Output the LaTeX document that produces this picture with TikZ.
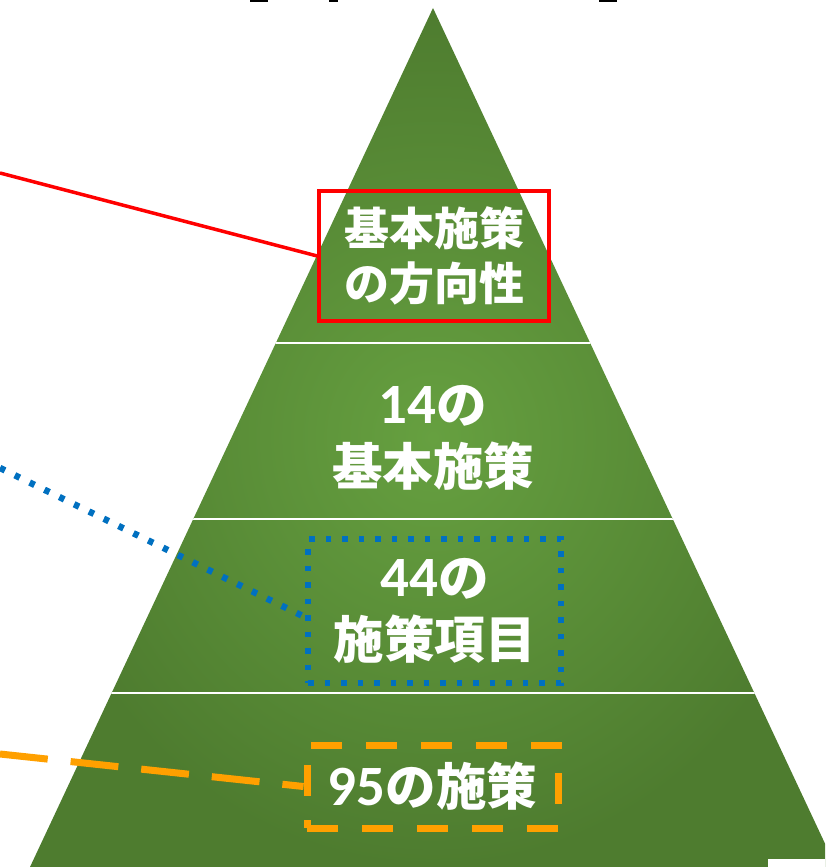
\documentclass[tikz,border=0pt]{standalone}
\usepackage{fontspec}
\newfontfamily\jp{Noto Sans CJK JP}
\newfontfamily\lat{Carlito}[BoldFont={Carlito Bold}]
\newcommand{\dg}[1]{{\lat\bfseries\fontsize{57}{62}\selectfont #1}}
\definecolor{pgreenin}{HTML}{66A040}
\definecolor{pgreenout}{HTML}{4E7C2F}
\definecolor{lred}{HTML}{FF0000}
\definecolor{lblue}{HTML}{0070C0}
\definecolor{lorange}{HTML}{FFA000}
\tikzset{
  lbl/.style={text=white, align=center, inner sep=0pt, font=\jp\bfseries\fontsize{45}{55}\selectfont},
  lblbig/.style={text=white, align=center, inner sep=0pt, font=\jp\bfseries\fontsize{50.5}{62}\selectfont},
  redbox/.style={draw=lred, line width=3.5pt},
  bluebox/.style={draw=lblue, line width=6.5pt, dash pattern=on 5.5pt off 11pt},
  orangebox/.style={draw=lorange, line width=7pt, dash pattern=on 31pt off 24pt},
  divider/.style={draw=white, line width=2pt},
}
\begin{document}
\begin{tikzpicture}[x=1pt,y=-1pt]
\useasboundingbox (0,0) rectangle (825,867);
% cut-off title fragments
\fill[black] (250,0) rectangle (268,2);
\fill[black] (329,0) rectangle (338,2);
\fill[black] (599,0) rectangle (617,2);
% pyramid
\coordinate (apex) at (433,8);
\coordinate (bl) at (30,867);
\coordinate (br) at (836,867);
\begin{scope}
\clip (0,0) rectangle (825,867);
\shade[inner color=pgreenin, outer color=pgreenout] (apex) -- (br) -- (bl) -- cycle;
\clip (apex) -- (br) -- (bl) -- cycle;
\draw[divider] (0,343) -- (825,343);
\draw[divider] (0,519) -- (825,519);
\draw[divider] (0,693) -- (825,693);
\end{scope}
\fill[white] (768,859) rectangle (825,867);
% boxes and labels
\node[lbl, redbox, minimum width=230pt, minimum height=130pt] (rb) at (434,256) {基本施策\\の方向性};
\node[lblbig] (mid) at (433,438) {\dg{14}の\\基本施策};
\node[lblbig, bluebox, minimum width=253pt, minimum height=144pt] (bb) at (434.5,611) {\dg{44}の\\施策項目};
\node[lblbig, orangebox, minimum width=251pt, minimum height=83pt] (ob) at (432.5,786.5) {\dg{95}の施策};
% connectors
\coordinate (r0) at (0,173);
\coordinate (b0) at (0,468);
\coordinate (o0) at (0,754);
\draw[lred, line width=3.5pt] (r0) -- (rb.west);
\draw[lblue, line width=6.5pt, dash pattern=on 5.5pt off 11pt] (b0) -- ([yshift=-6pt]bb.west);
\draw[lorange, line width=7pt, dash pattern=on 48pt off 23pt] (o0) -- (ob.west);
\end{tikzpicture}
\end{document}
